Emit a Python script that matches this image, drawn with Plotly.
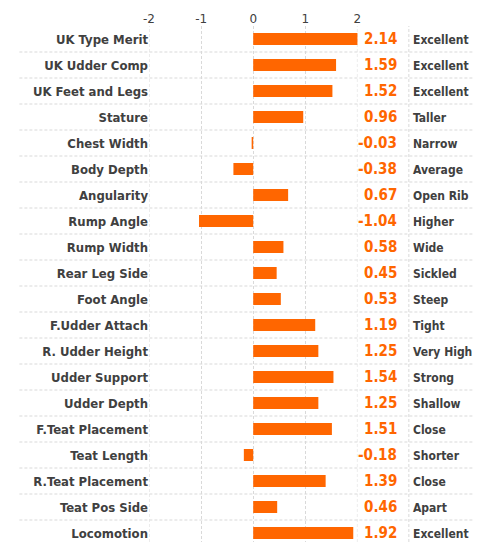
import plotly.graph_objects as go

traits = ["UK Type Merit", "UK Udder Comp", "UK Feet and Legs", "Stature", "Chest Width",
          "Body Depth", "Angularity", "Rump Angle", "Rump Width", "Rear Leg Side",
          "Foot Angle", "F.Udder Attach", "R. Udder Height", "Udder Support", "Udder Depth",
          "F.Teat Placement", "Teat Length", "R.Teat Placement", "Teat Pos Side", "Locomotion"]
values = [2.14, 1.59, 1.52, 0.96, -0.03, -0.38, 0.67, -1.04, 0.58, 0.45,
          0.53, 1.19, 1.25, 1.54, 1.25, 1.51, -0.18, 1.39, 0.46, 1.92]
descriptors = ["Excellent", "Excellent", "Excellent", "Taller", "Narrow", "Average", "Open Rib",
               "Higher", "Wide", "Sickled", "Steep", "Tight", "Very High", "Strong", "Shallow",
               "Close", "Shorter", "Close", "Apart", "Excellent"]
tick_vals = [-2, -1, 0, 1, 2]
tick_text = ["-2", "-1", "0", "1", "2"]
x_range = [-2, 2]

ORANGE = "#FF6600"
GREY = "#404040"
GRID = "#D9D9D9"
FONT = "DejaVu Sans Condensed, sans-serif"
DASH = "3px,2px"

fig = go.Figure(go.Bar(
    x=values, y=list(range(len(traits))), orientation="h",
    marker=dict(color=ORANGE, line=dict(width=0)), width=0.46,
    hoverinfo="skip",
))

annotations = []
shapes = []
for i, (v, d) in enumerate(zip(values, descriptors)):
    annotations.append(dict(x=0.772, y=i, xref="paper", yref="y", text=f"{v:.2f}",
                            showarrow=False, xanchor="right", yanchor="middle",
                            font=dict(family=FONT, size=15, color=ORANGE, weight="bold")))
    annotations.append(dict(x=0.808, y=i, xref="paper", yref="y", text=d,
                            showarrow=False, xanchor="left", yanchor="middle", yshift=-1,
                            font=dict(family=FONT, size=12, color=GREY, weight="bold")))
    if i < len(values) - 1:
        shapes.append(dict(type="line", xref="paper", yref="y", x0=-0.4, x1=1,
                           y0=i + 0.5, y1=i + 0.5, layer="below",
                           line=dict(color=GRID, width=1, dash=DASH)))
# gridlines at the range edges
for xv in x_range:
    shapes.append(dict(type="line", xref="x", yref="paper", x0=xv, x1=xv,
                       y0=0, y1=1, layer="below", line=dict(color=GRID, width=1, dash=DASH)))
# divider between value column and descriptor column
shapes.append(dict(type="line", xref="paper", yref="paper", x0=0.802, x1=0.802,
                   y0=0, y1=1, layer="below", line=dict(color=GRID, width=1, dash=DASH)))

fig.update_layout(
    width=477, height=542,
    margin=dict(l=149, r=0, t=26, b=0),
    paper_bgcolor="white", plot_bgcolor="white",
    showlegend=False,
    annotations=annotations, shapes=shapes,
    xaxis=dict(range=x_range, domain=[0, 0.6433], side="top",
               tickvals=tick_vals, ticktext=tick_text,
               showgrid=True, gridcolor=GRID, griddash=DASH, gridwidth=1,
               zeroline=False, showline=False, ticks="",
               tickfont=dict(family="DejaVu Sans, sans-serif", size=12, color=GREY),
               ticklabelstandoff=0),
    yaxis=dict(range=[19.346, -0.5], tickvals=list(range(len(traits))), ticktext=traits,
               showgrid=False, zeroline=False, showline=False, ticks="",
               tickfont=dict(family=FONT, size=13, color=GREY, weight="bold"),
               ticklabelstandoff=0),
)
fig.write_html("out.html", config={"displayModeBar": False, "staticPlot": True},
               post_script="document.body.style.margin='0';document.body.style.overflow='hidden';")
